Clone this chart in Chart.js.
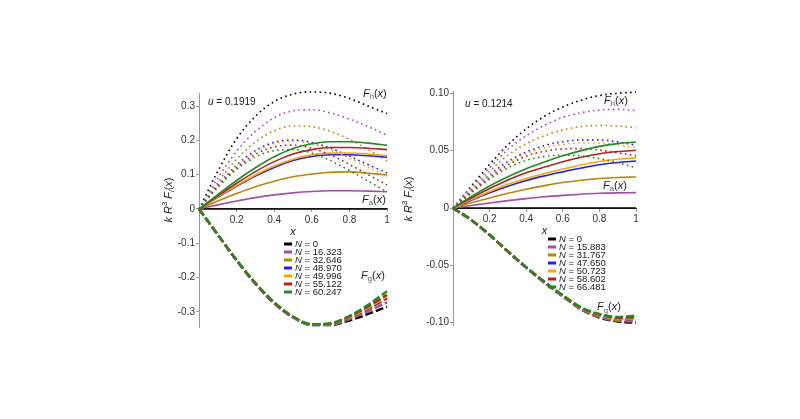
<!DOCTYPE html>
<html>
<head>
<meta charset="utf-8">
<script src="https://cdn.jsdelivr.net/npm/chart.js@4.4.1/dist/chart.umd.min.js"></script>
<style>
html, body { margin: 0; padding: 0; background: #fff; }
body { width: 800px; height: 419px; position: relative; overflow: hidden; }
canvas { position: absolute; }
#cLeft { left: 130px; top: 80px; }
#cRight { left: 385px; top: 78px; }
</style>
</head>
<body>
<canvas id="cLeft" width="270" height="265"></canvas>
<canvas id="cRight" width="265" height="265"></canvas>
<script>
// sample points along x
const xs = [0, 0.1, 0.2, 0.3, 0.4, 0.5, 0.6, 0.7, 0.8, 0.9, 1];

// one colour per N value (same order as the legend)
const colors = ['#000000', '#a64ca6', '#b8860b', '#1f1fff', '#ffa500', '#b22222', '#228b22'];

const nLeft = ['0', '16.323', '32.646', '48.970', '49.996', '55.122', '60.247'];
const nRight = ['0', '15.883', '31.767', '47.650', '50.723', '58.602', '66.481'];

const xTickVals = [0.2, 0.4, 0.6, 0.8, 1];
const xTickLabels = ['0.2', '0.4', '0.6', '0.8', '1'];
const yTicksLeft = [-0.3, -0.2, -0.1, 0, 0.1, 0.2, 0.3];
const yTickLabelsLeft = ['-0.3', '-0.2', '-0.1', '0', '0.1', '0.2', '0.3'];
const yTicksRight = [-0.1, -0.05, 0, 0.05, 0.1];
const yTickLabelsRight = ['-0.10', '-0.05', '0', '0.05', '0.10'];

// left panel, u = 0.1919
const faLeft = [
    [0, 0, 0, 0, 0, 0, 0, 0, 0, 0, 0],
    [0, 0.012, 0.023, 0.033, 0.041, 0.047, 0.051, 0.053, 0.053, 0.052, 0.050],
    [0, 0.023, 0.045, 0.065, 0.081, 0.094, 0.102, 0.107, 0.108, 0.104, 0.099],
    [0, 0.034, 0.066, 0.096, 0.121, 0.141, 0.153, 0.158, 0.158, 0.155, 0.151],
    [0, 0.035, 0.068, 0.099, 0.125, 0.145, 0.158, 0.163, 0.163, 0.160, 0.155],
    [0, 0.038, 0.075, 0.109, 0.138, 0.160, 0.173, 0.179, 0.179, 0.177, 0.173],
    [0, 0.042, 0.083, 0.120, 0.152, 0.176, 0.190, 0.196, 0.196, 0.192, 0.186]
];
const fhLeft = [
    [0, 0.110, 0.205, 0.270, 0.313, 0.335, 0.341, 0.337, 0.322, 0.300, 0.278],
    [0, 0.090, 0.168, 0.226, 0.266, 0.286, 0.289, 0.280, 0.262, 0.240, 0.215],
    [0, 0.078, 0.145, 0.195, 0.228, 0.242, 0.240, 0.226, 0.203, 0.173, 0.140],
    [0, 0.070, 0.128, 0.170, 0.194, 0.201, 0.194, 0.177, 0.154, 0.129, 0.105],
    [0, 0.068, 0.125, 0.166, 0.190, 0.197, 0.190, 0.172, 0.148, 0.121, 0.095],
    [0, 0.066, 0.120, 0.159, 0.181, 0.186, 0.177, 0.157, 0.130, 0.100, 0.070],
    [0, 0.063, 0.115, 0.151, 0.170, 0.173, 0.163, 0.141, 0.112, 0.081, 0.050]
];
const fgLeft = [
    [0, -0.075, -0.150, -0.218, -0.275, -0.316, -0.338, -0.338, -0.325, -0.306, -0.285],
    [0, -0.075, -0.150, -0.218, -0.275, -0.316, -0.338, -0.337, -0.321, -0.298, -0.272],
    [0, -0.075, -0.150, -0.217, -0.274, -0.315, -0.337, -0.336, -0.318, -0.292, -0.262],
    [0, -0.075, -0.150, -0.217, -0.273, -0.315, -0.337, -0.335, -0.317, -0.290, -0.258],
    [0, -0.075, -0.149, -0.217, -0.273, -0.315, -0.337, -0.335, -0.316, -0.288, -0.255],
    [0, -0.075, -0.149, -0.216, -0.273, -0.314, -0.336, -0.334, -0.314, -0.284, -0.250],
    [0, -0.075, -0.149, -0.216, -0.272, -0.314, -0.336, -0.333, -0.312, -0.279, -0.240]
];

// right panel, u = 0.1214
const faRight = [
    [0, 0, 0, 0, 0, 0, 0, 0, 0, 0, 0],
    [0, 0.0022, 0.0044, 0.0064, 0.0082, 0.0098, 0.0110, 0.0120, 0.0128, 0.0132, 0.0134],
    [0, 0.0045, 0.0088, 0.0128, 0.0163, 0.0195, 0.0222, 0.0242, 0.0257, 0.0266, 0.0270],
    [0, 0.0068, 0.0132, 0.0190, 0.0240, 0.0280, 0.0315, 0.0348, 0.0377, 0.0397, 0.0410],
    [0, 0.0074, 0.0144, 0.0207, 0.0258, 0.0300, 0.0340, 0.0375, 0.0405, 0.0425, 0.0437],
    [0, 0.0087, 0.0170, 0.0245, 0.0307, 0.0357, 0.0403, 0.0442, 0.0473, 0.0492, 0.0503],
    [0, 0.0100, 0.0192, 0.0273, 0.0343, 0.0402, 0.0455, 0.0500, 0.0537, 0.0561, 0.0575]
];
const fhRight = [
    [0, 0.019, 0.038, 0.055, 0.069, 0.080, 0.088, 0.094, 0.098, 0.100, 0.101],
    [0, 0.018, 0.035, 0.051, 0.063, 0.072, 0.079, 0.083, 0.0855, 0.086, 0.085],
    [0, 0.016, 0.032, 0.046, 0.056, 0.063, 0.068, 0.071, 0.072, 0.0715, 0.070],
    [0, 0.0148, 0.0287, 0.0405, 0.0488, 0.0545, 0.0578, 0.0594, 0.0594, 0.0575, 0.0548],
    [0, 0.0143, 0.0277, 0.0395, 0.0475, 0.0525, 0.0555, 0.0567, 0.0565, 0.0548, 0.0525],
    [0, 0.0138, 0.0265, 0.0375, 0.0452, 0.0495, 0.0515, 0.0518, 0.0505, 0.0480, 0.0455],
    [0, 0.0130, 0.0250, 0.0350, 0.0415, 0.0450, 0.0460, 0.0455, 0.0430, 0.0395, 0.0350]
];
const fgRight = [
    [0, -0.0105, -0.0235, -0.0380, -0.0520, -0.0650, -0.0770, -0.0885, -0.0955, -0.0990, -0.1000],
    [0, -0.0105, -0.0235, -0.0380, -0.0520, -0.0650, -0.0770, -0.0883, -0.0950, -0.0983, -0.0990],
    [0, -0.0105, -0.0235, -0.0380, -0.0519, -0.0649, -0.0768, -0.0880, -0.0945, -0.0976, -0.0980],
    [0, -0.0105, -0.0235, -0.0379, -0.0518, -0.0647, -0.0765, -0.0876, -0.0938, -0.0967, -0.0968],
    [0, -0.0105, -0.0235, -0.0379, -0.0518, -0.0646, -0.0764, -0.0874, -0.0936, -0.0964, -0.0963],
    [0, -0.0105, -0.0234, -0.0378, -0.0517, -0.0645, -0.0762, -0.0870, -0.0930, -0.0957, -0.0953],
    [0, -0.0105, -0.0234, -0.0378, -0.0516, -0.0643, -0.0759, -0.0866, -0.0924, -0.0949, -0.0938]
];

const FONT = '"Liberation Sans", Arial, sans-serif';

// small helper for text with italics / sub / superscripts
function fontFor(p, size) {
    const s = (p.sub || p.sup) ? size * 0.7 : size;
    return (p.it ? 'italic ' : '') + s + 'px ' + FONT;
}
function richText(ctx, parts, x, y, size, align) {
    let w = 0;
    parts.forEach(p => { ctx.font = fontFor(p, size); w += ctx.measureText(p.t).width; });
    let cx = align === 'center' ? x - w / 2 : x;
    ctx.textBaseline = 'middle';
    ctx.textAlign = 'left';
    parts.forEach(p => {
        ctx.font = fontFor(p, size);
        const dy = p.sub ? size * 0.3 : (p.sup ? -size * 0.35 : 0);
        ctx.fillStyle = p.color || '#222';
        ctx.fillText(p.t, cx, y + dy);
        cx += ctx.measureText(p.t).width;
    });
}
function fLabel(sub) {
    return [{t: 'F', it: true}, {t: sub, sub: true, color: '#555'}, {t: '('}, {t: 'x', it: true}, {t: ')'}];
}
const yTitleParts = [{t: 'k', it: true}, {t: ' '}, {t: 'R', it: true}, {t: '3', sup: true}, {t: ' '},
    {t: 'F', it: true}, {t: 'i', it: true, sub: true}, {t: '('}, {t: 'x', it: true}, {t: ')'}];

const decorPlugin = {
    id: 'decor',
    afterDatasetsDraw(chart, args, opts) {
        const ctx = chart.ctx;
        const xs_ = chart.scales.x, ys_ = chart.scales.y;
        const area = chart.chartArea;
        ctx.save();
        // annotations placed in data coordinates
        opts.notes.forEach(n => {
            richText(ctx, n.parts, xs_.getPixelForValue(n.x), ys_.getPixelForValue(n.y), n.size, 'left');
        });
        // y axis title, rotated
        ctx.save();
        ctx.translate(area.left - opts.titleDx, ys_.getPixelForValue(opts.titleY));
        ctx.rotate(-Math.PI / 2);
        richText(ctx, yTitleParts, 0, 0, 11, 'center');
        ctx.restore();
        // legend
        opts.nVals.forEach((n, i) => {
            const lx = area.left + opts.legendDx;
            const ly = area.top + opts.legendDy + i * 8;
            ctx.fillStyle = colors[i];
            ctx.fillRect(lx, ly - 1.5, 8, 3);
            richText(ctx, [{t: 'N', it: true}, {t: ' = ' + n}], lx + 11, ly, 9.5, 'left');
        });
        ctx.restore();
    }
};

function line(vals, color, dash, width, order) {
    return {
        data: vals.map((v, i) => ({x: xs[i], y: v})),
        borderColor: color,
        borderWidth: width,
        borderDash: dash,
        borderCapStyle: 'butt',
        pointRadius: 0,
        fill: false,
        clip: 6,
        cubicInterpolationMode: 'monotone',
        order: order
    };
}

function makeChart(id, p) {
    const datasets = [];
    colors.forEach((c, k) => {
        const ord = colors.length - k;
        datasets.push(line(p.fa[k], c, [], 1.6, ord));
        datasets.push(line(p.fh[k], c, [1.6, 3.4], 1.6, ord));
        datasets.push(line(p.fg[k], c, [8, 3], 2.4, ord));
    });
    const tickFont = {family: FONT, size: 10};
    return new Chart(document.getElementById(id), {
        type: 'line',
        data: {datasets: datasets},
        options: {
            responsive: false,
            devicePixelRatio: 1,
            animation: false,
            layout: {padding: {left: 0, right: p.padRight, top: 13, bottom: 18}},
            plugins: {
                legend: {display: false},
                tooltip: {enabled: false},
                decor: {notes: p.notes, nVals: p.nVals, titleDx: p.titleDx, titleY: p.titleY,
                        legendDx: p.legendDx, legendDy: p.legendDy}
            },
            scales: {
                x: {
                    type: 'linear', min: 0, max: 1, position: {y: 0},
                    afterBuildTicks: a => { a.ticks = xTickVals.map(v => ({value: v})); },
                    ticks: {callback: (v, i) => xTickLabels[i], font: tickFont, color: '#333',
                            padding: 2, maxRotation: 0, autoSkip: false},
                    grid: {drawOnChartArea: false, tickLength: 3, color: '#999'},
                    border: {color: '#444', width: 1},
                    title: {display: true, text: 'x', color: '#222',
                            font: {family: FONT, size: 11, style: 'italic'}, padding: {top: -3, bottom: 0}}
                },
                y: {
                    type: 'linear', min: p.yMin, max: p.yMax, position: 'left',
                    afterFit: s => { s.width = p.axisW; },
                    afterBuildTicks: a => { a.ticks = p.yTicks.map(v => ({value: v})); },
                    ticks: {callback: (v, i) => p.yLabels[i], font: tickFont, color: '#333',
                            padding: 1, autoSkip: false},
                    grid: {drawOnChartArea: false, tickLength: 3, color: '#999'},
                    border: {color: '#999', width: 1}
                }
            }
        },
        plugins: [decorPlugin]
    });
}

makeChart('cLeft', {
    fa: faLeft, fh: fhLeft, fg: fgLeft, nVals: nLeft,
    yMin: -0.344, yMax: 0.338, yTicks: yTicksLeft, yLabels: yTickLabelsLeft,
    axisW: 69, padRight: 13, titleDx: 30, titleY: 0.026, legendDx: 85, legendDy: 151,
    notes: [
        {x: 0.048, y: 0.312, size: 10, parts: [{t: 'u', it: true}, {t: ' = 0.1919'}]},
        {x: 0.872, y: 0.335, size: 11, parts: fLabel('h')},
        {x: 0.867, y: 0.027, size: 11, parts: fLabel('a')},
        {x: 0.862, y: -0.195, size: 11, parts: fLabel('g')}
    ]
});

makeChart('cRight', {
    fa: faRight, fh: fhRight, fg: fgRight, nVals: nRight,
    yMin: -0.102, yMax: 0.102, yTicks: yTicksRight, yLabels: yTickLabelsRight,
    axisW: 68, padRight: 14, titleDx: 44, titleY: 0.0078, legendDx: 95, legendDy: 148,
    notes: [
        {x: 0.066, y: 0.0907, size: 10, parts: [{t: 'u', it: true}, {t: ' = 0.1214'}]},
        {x: 0.825, y: 0.0935, size: 11, parts: fLabel('h')},
        {x: 0.820, y: 0.0194, size: 11, parts: fLabel('a')},
        {x: 0.787, y: -0.0865, size: 11, parts: fLabel('g')}
    ]
});
</script>
</body>
</html>
